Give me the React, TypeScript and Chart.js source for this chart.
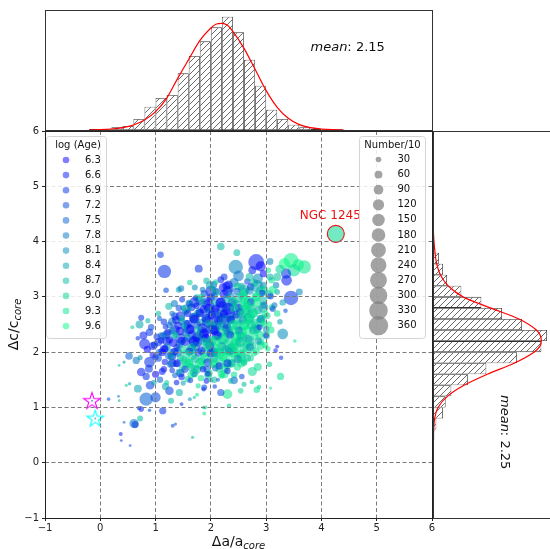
import React, { useEffect, useRef } from 'react';
import { Chart, registerables } from 'chart.js';
Chart.register(...registerables);

const FONT = '"DejaVu Sans", sans-serif';

// ---------- data ----------
const xTickLabels = ['−1', '0', '1', '2', '3', '4', '5', '6'];
const yTickLabels = ['−1', '0', '1', '2', '3', '4', '5', '6'];

const ageLegend = [6.3, 6.6, 6.9, 7.2, 7.5, 7.8, 8.1, 8.4, 8.7, 9.0, 9.3, 9.6];
const sizeLegend = [30, 60, 90, 120, 150, 180, 210, 240, 270, 300, 330, 360];

const topMean = 2.15;
const rightMean = 2.25;

// top histogram (Δa/a_core), bin centres and counts
const topBinCenters = [-0.1, 0.1, 0.3, 0.5, 0.7, 0.9, 1.1, 1.3, 1.5, 1.7, 1.9, 2.1, 2.3, 2.5, 2.7, 2.9, 3.1, 3.3, 3.5, 3.7, 3.9, 4.1, 4.3];
const topBinCounts = [3, 2, 8, 12, 33, 70, 96, 105, 170, 222, 266, 308, 340, 293, 211, 133, 61, 33, 16, 8, 4, 2, 2];
const topFitX = [-0.2, 0.0, 0.2, 0.4, 0.6, 0.8, 1.0, 1.2, 1.4, 1.6, 1.8, 2.0, 2.1, 2.2, 2.3, 2.4, 2.6, 2.8, 3.0, 3.2, 3.4, 3.6, 3.8, 4.0, 4.2, 4.4];
const topFitY = [0, 1, 3, 7, 15, 30, 55, 95, 155, 212, 268, 306, 318, 320, 314, 295, 245, 182, 118, 68, 35, 16, 7, 3, 1, 0];

// right histogram (Δc/c_core)
const rightBinCenters = [0.3, 0.5, 0.7, 0.9, 1.1, 1.3, 1.5, 1.7, 1.9, 2.1, 2.3, 2.5, 2.7, 2.9, 3.1, 3.3, 3.5, 3.7];
const rightBinCounts = [1, 4, 10, 30, 38, 55, 105, 160, 252, 325, 342, 267, 207, 145, 85, 42, 30, 18];
const rightFitY = [0.4, 0.6, 0.8, 1.0, 1.2, 1.4, 1.6, 1.8, 2.0, 2.1, 2.2, 2.3, 2.4, 2.6, 2.8, 3.0, 3.2, 3.4, 3.6, 3.8, 4.0, 4.2, 4.4];
const rightFitX = [0, 2, 5, 15, 43, 93, 163, 243, 303, 320, 325, 322, 310, 258, 172, 90, 45, 22, 11, 6, 3, 1, 0];

// clusters: [Δa/a, Δc/c, log(Age), Number/10]
const outerClusters: number[][] = [
  [1.09, 3.76, 7.0, 40], [1.16, 3.46, 6.9, 170], [1.78, 3.51, 6.9, 60], [1.19, 3.12, 7.2, 30], [1.42, 3.13, 8.4, 35],
  [1.46, 3.15, 7.8, 40], [1.62, 3.26, 9.0, 30], [1.71, 3.17, 8.1, 35], [1.24, 2.83, 8.7, 50], [1.34, 2.88, 7.8, 50],
  [1.48, 2.95, 6.9, 35], [1.61, 2.79, 8.4, 25], [0.71, 2.5, 8.4, 60], [0.74, 2.62, 6.9, 35], [0.58, 2.45, 9.0, 15],
  [0.86, 2.57, 8.7, 25], [1.07, 2.61, 7.5, 25], [0.89, 2.36, 6.9, 55], [0.8, 2.15, 6.6, 110],
  [2.18, 3.91, 8.7, 55], [2.47, 3.8, 8.7, 45], [2.45, 3.54, 8.0, 200], [2.82, 3.63, 6.6, 240], [2.9, 3.55, 6.3, 100],
  [2.75, 3.48, 6.6, 60], [3.07, 3.64, 8.0, 45], [3.45, 3.66, 9.4, 210], [3.69, 3.54, 9.3, 170], [3.33, 3.6, 9.6, 120],
  [3.58, 3.58, 9.5, 130], [3.5, 3.48, 9.2, 150], [3.36, 3.42, 6.9, 100], [3.37, 3.3, 6.6, 110], [3.2, 3.36, 8.8, 60],
  [3.6, 3.09, 8.0, 45], [3.45, 2.98, 6.9, 200], [3.3, 2.9, 8.4, 40], [3.04, 3.48, 9.4, 30], [3.07, 3.36, 8.6, 45],
  [3.12, 3.13, 9.4, 60], [2.24, 3.36, 6.9, 45], [2.32, 3.22, 6.6, 70], [2.09, 3.27, 9.0, 30], [2.04, 3.14, 8.7, 45],
  [2.5, 3.38, 7.8, 110], [2.7, 3.36, 8.7, 60], [2.85, 3.33, 8.1, 100], [2.95, 3.42, 6.3, 50], [3.25, 3.5, 9.0, 80],
  [3.3, 2.33, 8.1, 110], [3.52, 2.2, 9.3, 12], [3.09, 2.4, 9.3, 45], [3.0, 2.3, 7.0, 30], [2.88, 2.45, 6.8, 35],
  [3.03, 2.06, 9.4, 30], [3.17, 2.03, 6.8, 20], [3.2, 2.1, 6.6, 15], [3.27, 1.9, 7.0, 20], [3.06, 1.78, 9.0, 30],
  [3.26, 1.56, 9.2, 50], [3.08, 1.35, 9.3, 10], [3.2, 2.7, 9.3, 40], [3.25, 2.55, 8.4, 30], [3.15, 2.85, 7.8, 35],
  [3.35, 2.75, 7.2, 20],
  [2.85, 1.73, 9.2, 60], [2.75, 1.65, 9.1, 80], [2.87, 1.37, 9.1, 20], [2.83, 1.32, 9.2, 40], [2.74, 1.46, 8.8, 20],
  [2.56, 1.56, 7.2, 30], [2.6, 1.42, 8.7, 25], [2.54, 1.3, 9.1, 30], [2.42, 1.49, 7.5, 55], [2.36, 1.48, 8.7, 30],
  [2.3, 1.24, 9.3, 90], [2.18, 1.27, 7.2, 50], [2.13, 1.5, 7.5, 15], [2.07, 1.38, 7.0, 20], [2.33, 1.03, 9.0, 20],
  [1.87, 1.33, 7.0, 20], [1.87, 1.0, 8.7, 12], [1.88, 0.89, 9.3, 15], [1.67, 0.46, 8.7, 10], [2.3, 1.8, 6.9, 60],
  [0.83, 1.15, 7.5, 170], [1.0, 1.18, 7.2, 100], [0.61, 0.71, 7.8, 80], [0.63, 0.69, 7.0, 50], [0.37, 0.52, 6.6, 15],
  [0.38, 0.4, 7.2, 8], [0.43, 0.73, 7.5, 8], [0.54, 0.31, 7.2, 8], [0.72, 0.8, 8.7, 35], [0.89, 0.95, 7.2, 12],
  [0.74, 0.97, 6.6, 30], [0.7, 0.99, 7.2, 20], [1.13, 0.94, 6.9, 50], [1.31, 0.67, 7.2, 15], [1.36, 0.7, 7.5, 10],
  [0.15, 1.15, 7.2, 12], [0.33, 1.2, 7.8, 8], [0.34, 1.12, 8.7, 8], [0.47, 1.4, 9.0, 10], [0.53, 1.43, 8.4, 12],
  [0.34, 1.76, 8.7, 8], [0.43, 1.82, 8.1, 10], [0.52, 1.93, 7.5, 55], [0.65, 1.85, 7.8, 50], [0.68, 1.34, 8.4, 60],
  [0.74, 1.64, 6.6, 70], [0.83, 1.56, 6.9, 50], [0.89, 1.82, 6.9, 110], [0.9, 1.4, 7.0, 70], [1.28, 1.12, 8.7, 35],
  [1.43, 1.27, 8.6, 50], [1.47, 1.06, 6.9, 15], [1.25, 1.3, 7.0, 70], [1.18, 1.38, 8.4, 50], [1.88, 1.36, 7.0, 35],
  [1.9, 1.0, 9.0, 15], [1.75, 1.23, 9.3, 15], [1.7, 1.18, 8.7, 10], [1.62, 1.15, 8.1, 15],
  [0.78, 2.3, 6.6, 60], [0.92, 2.45, 7.2, 40], [0.85, 2.05, 6.3, 50], [0.95, 1.95, 6.6, 40], [0.88, 1.7, 6.9, 60],
  [1.0, 1.6, 6.3, 50], [1.08, 1.5, 7.5, 40], [0.97, 1.45, 8.4, 30], [1.12, 1.65, 6.6, 45], [0.72, 1.9, 8.1, 25],
  [1.05, 2.7, 8.7, 30], [1.15, 2.55, 6.9, 40], [1.3, 2.7, 7.8, 30], [0.68, 2.25, 6.9, 20], [1.2, 1.45, 9.0, 25],
  [1.38, 1.45, 6.6, 30],
  [-0.15, 1.12, 7.2, 4], [-0.09, 0.8, 7.8, 4],
];

// larger clusters filling the dense centre
const coreFill: number[][] = [
  [2.0, 3.1, 6.6, 120], [2.3, 3.1, 7.2, 100], [2.6, 3.12, 8.7, 120], [2.9, 3.1, 9.0, 100], [1.8, 2.93, 7.5, 80],
  [1.7, 2.9, 6.9, 100], [1.95, 2.85, 6.3, 130], [2.2, 2.82, 7.0, 120], [2.45, 2.85, 8.4, 110], [2.7, 2.9, 9.2, 130],
  [2.95, 2.8, 8.7, 90], [1.55, 2.78, 7.8, 80], [2.35, 2.7, 6.6, 100], [2.6, 2.75, 9.0, 120], [2.05, 2.72, 6.9, 110],
  [1.8, 2.72, 8.1, 90], [1.45, 2.65, 6.6, 90], [1.7, 2.62, 6.9, 110], [1.95, 2.55, 6.3, 140], [2.2, 2.6, 6.6, 120],
  [2.45, 2.6, 8.7, 130], [2.7, 2.65, 9.3, 110], [2.9, 2.55, 9.0, 90], [1.55, 2.5, 7.2, 80], [2.1, 2.48, 7.5, 100],
  [2.6, 2.5, 9.1, 120], [1.3, 2.55, 7.8, 70], [1.35, 2.4, 6.9, 90], [1.6, 2.42, 6.6, 110], [1.85, 2.35, 6.3, 130],
  [2.05, 2.42, 7.0, 120], [2.3, 2.4, 8.4, 110], [2.55, 2.35, 9.2, 130], [2.8, 2.42, 9.0, 100], [1.2, 2.32, 7.5, 70],
  [1.75, 2.28, 7.8, 90], [2.45, 2.28, 9.4, 110], [3.0, 2.3, 8.7, 60], [1.2, 2.2, 6.6, 80], [1.45, 2.25, 7.2, 100],
  [1.7, 2.2, 6.3, 120], [1.95, 2.18, 8.7, 110], [2.2, 2.25, 9.0, 130], [2.45, 2.15, 9.3, 120], [2.7, 2.2, 8.7, 100],
  [2.9, 2.12, 9.2, 70], [1.05, 2.18, 6.9, 60], [2.05, 2.08, 9.4, 100], [2.35, 2.05, 8.4, 110], [1.15, 2.05, 6.6, 70],
  [1.4, 2.0, 7.5, 80], [1.65, 2.05, 8.4, 100], [1.9, 2.0, 9.0, 110], [2.15, 1.98, 9.3, 120], [2.4, 2.0, 9.0, 110],
  [2.65, 2.02, 9.3, 90], [1.3, 1.92, 6.9, 60], [2.55, 1.9, 9.4, 80], [1.3, 1.8, 6.6, 70], [1.55, 1.82, 9.0, 90],
  [1.8, 1.8, 9.2, 100], [2.05, 1.82, 9.4, 90], [2.3, 1.78, 9.0, 100], [2.55, 1.8, 9.3, 70], [1.65, 1.72, 8.7, 70],
  [2.15, 1.7, 9.1, 60], [1.45, 1.62, 7.2, 60], [1.7, 1.62, 9.0, 70], [1.95, 1.58, 8.7, 60], [2.25, 1.6, 9.3, 60],
];

const coreClusters: number[][] = [
  [1.92, 3.29, 8.7, 40], [2.05, 3.22, 7.5, 50], [2.18, 3.31, 6.6, 45], [2.28, 3.2, 6.3, 60], [2.42, 3.26, 7.8, 80], [2.55, 3.19, 8.4, 50], [2.66, 3.28, 7.2, 40], [2.78, 3.25, 9.0, 60], [2.95, 3.21, 8.1, 50], [3.1, 3.3, 9.3, 40],
  [1.85, 3.13, 7.8, 30], [1.98, 3.21, 8.4, 60], [2.1, 3.1, 6.9, 40], [2.22, 3.17, 6.4, 70], [2.35, 3.14, 7.0, 50], [2.48, 3.19, 8.9, 60], [2.6, 3.09, 8.7, 70], [2.72, 3.18, 6.6, 50], [2.84, 3.19, 8.4, 150], [2.97, 3.12, 9.2, 60], [3.18, 3.21, 7.8, 40],
  [1.75, 3.0, 9.0, 30], [1.88, 3.06, 7.2, 50], [2.0, 2.99, 6.6, 60], [2.12, 3.08, 8.7, 40], [2.24, 3.05, 6.3, 80], [2.36, 3.01, 8.1, 60], [2.47, 3.1, 7.5, 50], [2.58, 3.03, 9.3, 90], [2.7, 3.11, 8.1, 60], [2.82, 3.0, 9.0, 80], [2.93, 3.07, 6.9, 40], [3.05, 3.04, 8.7, 70], [3.2, 3.09, 8.4, 30],
  [1.6, 2.89, 8.1, 40], [1.72, 2.98, 6.9, 30], [1.83, 2.99, 9.0, 50], [1.95, 2.92, 6.6, 70], [2.06, 3.01, 7.8, 50], [2.17, 2.9, 6.3, 90], [2.28, 2.96, 8.4, 60], [2.39, 2.89, 6.8, 70], [2.5, 2.98, 8.7, 80], [2.61, 2.95, 9.2, 100], [2.72, 2.91, 7.2, 50], [2.83, 3.0, 9.4, 70], [2.95, 2.93, 8.7, 60], [3.08, 3.01, 7.0, 40],
  [1.5, 2.8, 8.7, 30], [1.62, 2.87, 7.5, 50], [1.74, 2.84, 6.6, 40], [1.85, 2.89, 8.1, 60], [1.96, 2.79, 6.3, 80], [2.07, 2.88, 8.4, 60], [2.18, 2.89, 6.6, 100], [2.29, 2.82, 7.4, 70], [2.4, 2.91, 9.0, 90], [2.51, 2.8, 6.9, 60], [2.62, 2.86, 9.3, 110], [2.73, 2.79, 8.9, 80], [2.84, 2.88, 9.3, 60], [2.96, 2.85, 7.8, 50], [3.1, 2.81, 9.0, 40],
  [1.42, 2.8, 7.2, 40], [1.54, 2.73, 8.4, 40], [1.65, 2.81, 6.9, 60], [1.76, 2.7, 8.7, 50], [1.87, 2.77, 6.4, 70], [1.98, 2.74, 7.8, 90], [2.09, 2.79, 6.3, 60], [2.2, 2.69, 8.1, 80], [2.31, 2.78, 6.6, 150], [2.42, 2.79, 9.0, 70], [2.53, 2.72, 7.5, 60], [2.64, 2.81, 9.2, 90], [2.75, 2.7, 8.7, 100], [2.86, 2.76, 8.4, 60], [2.98, 2.69, 9.4, 50], [3.12, 2.78, 7.2, 35],
  [1.35, 2.65, 6.9, 50], [1.47, 2.61, 8.7, 40], [1.58, 2.7, 6.6, 50], [1.69, 2.63, 7.8, 70], [1.8, 2.71, 6.3, 60], [1.91, 2.6, 8.7, 80], [2.02, 2.67, 6.6, 70], [2.13, 2.64, 7.2, 110], [2.24, 2.69, 6.3, 70], [2.35, 2.59, 8.4, 90], [2.46, 2.68, 6.8, 60], [2.57, 2.69, 9.1, 80], [2.68, 2.62, 8.7, 90], [2.79, 2.71, 9.4, 70], [2.9, 2.6, 7.5, 60], [3.02, 2.66, 9.0, 40],
  [1.25, 2.49, 7.5, 40], [1.37, 2.58, 6.6, 60], [1.48, 2.55, 8.4, 50], [1.59, 2.51, 6.9, 70], [1.7, 2.6, 6.3, 80], [1.81, 2.53, 8.1, 60], [1.92, 2.61, 6.4, 90], [2.03, 2.5, 8.7, 70], [2.14, 2.57, 6.6, 80], [2.25, 2.54, 7.8, 180], [2.36, 2.59, 6.3, 60], [2.47, 2.49, 9.0, 90], [2.58, 2.58, 8.1, 70], [2.69, 2.59, 9.3, 100], [2.8, 2.52, 9.0, 80], [2.92, 2.61, 8.7, 60], [3.05, 2.5, 9.4, 40],
  [1.18, 2.46, 6.9, 30], [1.3, 2.39, 8.1, 50], [1.41, 2.48, 6.6, 60], [1.52, 2.45, 8.7, 40], [1.63, 2.41, 6.3, 80], [1.74, 2.5, 7.2, 70], [1.85, 2.43, 6.6, 100], [1.96, 2.51, 8.4, 60], [2.07, 2.4, 6.3, 90], [2.18, 2.47, 8.7, 70], [2.29, 2.44, 6.9, 80], [2.4, 2.49, 9.2, 100], [2.51, 2.39, 7.5, 60], [2.62, 2.48, 9.4, 80], [2.73, 2.49, 9.0, 90], [2.84, 2.42, 8.4, 60], [2.96, 2.51, 9.3, 50],
  [1.1, 2.3, 7.8, 40], [1.22, 2.36, 6.6, 50], [1.33, 2.29, 8.7, 40], [1.44, 2.38, 6.3, 70], [1.55, 2.35, 7.5, 60], [1.66, 2.31, 6.6, 80], [1.77, 2.4, 8.7, 70], [1.88, 2.33, 6.3, 100], [1.99, 2.41, 7.2, 80], [2.1, 2.3, 6.4, 90], [2.21, 2.37, 9.0, 70], [2.32, 2.34, 8.1, 80], [2.43, 2.39, 9.2, 90], [2.54, 2.29, 8.7, 70], [2.65, 2.38, 9.4, 100], [2.76, 2.39, 8.7, 60], [2.88, 2.32, 9.2, 70], [3.0, 2.41, 8.1, 40],
  [1.02, 2.28, 6.9, 40], [1.14, 2.29, 7.5, 60], [1.25, 2.22, 6.6, 50], [1.36, 2.31, 8.7, 40], [1.47, 2.2, 6.3, 70], [1.58, 2.26, 8.4, 60], [1.69, 2.19, 6.6, 90], [1.8, 2.28, 7.8, 70], [1.91, 2.25, 6.3, 80], [2.02, 2.21, 9.0, 90], [2.13, 2.3, 6.6, 70], [2.24, 2.23, 9.2, 100], [2.35, 2.31, 7.2, 60], [2.46, 2.2, 9.4, 90], [2.57, 2.27, 9.1, 100], [2.68, 2.24, 8.4, 70], [2.79, 2.29, 9.3, 60], [2.9, 2.19, 9.0, 50],
  [0.98, 2.13, 7.2, 50], [1.1, 2.21, 6.6, 40], [1.21, 2.1, 8.1, 50], [1.32, 2.17, 6.4, 70], [1.43, 2.14, 7.5, 60], [1.54, 2.19, 6.6, 80], [1.65, 2.09, 8.7, 70], [1.76, 2.18, 6.3, 90], [1.87, 2.19, 8.7, 70], [1.98, 2.12, 6.9, 80], [2.09, 2.21, 9.2, 100], [2.2, 2.1, 7.8, 70], [2.31, 2.16, 9.0, 90], [2.42, 2.09, 9.3, 80], [2.53, 2.18, 8.7, 100], [2.64, 2.15, 9.2, 70], [2.75, 2.11, 9.0, 60], [2.86, 2.2, 8.4, 50], [2.98, 2.13, 9.4, 40],
  [0.95, 2.11, 6.6, 60], [1.06, 2.0, 7.8, 40], [1.17, 2.06, 6.3, 50], [1.28, 1.99, 8.4, 60], [1.39, 2.08, 6.9, 50], [1.5, 2.05, 9.0, 70], [1.61, 2.01, 6.6, 60], [1.72, 2.1, 8.1, 80], [1.83, 2.03, 6.4, 70], [1.94, 2.11, 9.2, 90], [2.05, 2.0, 7.2, 80], [2.16, 2.07, 9.4, 100], [2.27, 2.04, 8.7, 80], [2.38, 2.09, 9.1, 90], [2.49, 1.99, 9.3, 70], [2.6, 2.08, 9.0, 80], [2.71, 2.09, 8.1, 60], [2.82, 2.02, 9.2, 50],
  [1.0, 1.91, 6.9, 40], [1.12, 2.0, 6.3, 60], [1.23, 1.93, 7.5, 40], [1.34, 2.01, 6.6, 60], [1.45, 1.9, 8.7, 50], [1.56, 1.97, 9.2, 70], [1.67, 1.94, 9.0, 80], [1.78, 1.99, 7.2, 60], [1.89, 1.89, 9.3, 90], [2.0, 1.98, 6.6, 70], [2.11, 1.99, 9.0, 80], [2.22, 1.92, 9.3, 90], [2.33, 2.01, 8.4, 70], [2.44, 1.9, 9.4, 80], [2.55, 1.96, 9.1, 70], [2.66, 1.89, 8.7, 50], [2.78, 1.98, 9.3, 40],
  [1.05, 1.89, 7.2, 50], [1.17, 1.82, 6.6, 40], [1.28, 1.91, 8.1, 50], [1.39, 1.8, 6.4, 60], [1.5, 1.86, 9.0, 60], [1.61, 1.79, 9.3, 80], [1.72, 1.88, 8.7, 70], [1.83, 1.85, 9.2, 60], [1.94, 1.81, 6.9, 70], [2.05, 1.9, 8.7, 80], [2.16, 1.83, 9.2, 70], [2.27, 1.91, 9.4, 90], [2.38, 1.8, 9.0, 60], [2.49, 1.87, 8.1, 70], [2.6, 1.84, 9.3, 50], [2.72, 1.89, 9.1, 40],
  [1.15, 1.69, 6.6, 40], [1.27, 1.78, 7.8, 50], [1.38, 1.79, 6.9, 40], [1.49, 1.72, 9.0, 50], [1.6, 1.81, 9.2, 70], [1.71, 1.7, 9.0, 60], [1.82, 1.76, 9.4, 70], [1.93, 1.69, 7.5, 50], [2.04, 1.78, 9.3, 60], [2.15, 1.75, 6.6, 50], [2.26, 1.71, 9.1, 70], [2.37, 1.8, 8.7, 60], [2.48, 1.73, 9.3, 50], [2.6, 1.81, 9.0, 40],
  [1.3, 1.67, 6.9, 30], [1.42, 1.64, 8.4, 40], [1.53, 1.69, 7.2, 50], [1.64, 1.59, 9.3, 50], [1.75, 1.68, 8.7, 60], [1.86, 1.69, 6.6, 40], [1.97, 1.62, 9.0, 50], [2.08, 1.71, 7.8, 40], [2.19, 1.6, 9.2, 50], [2.3, 1.66, 6.9, 40], [2.42, 1.59, 9.2, 40],
  [1.35, 1.58, 7.5, 30], [1.47, 1.55, 6.6, 40], [1.58, 1.51, 9.0, 40], [1.7, 1.6, 8.1, 30], [1.82, 1.53, 9.3, 40], [1.94, 1.61, 6.9, 30], [2.06, 1.5, 8.7, 40], [2.2, 1.57, 9.4, 30],
  [1.5, 1.44, 8.4, 25], [1.63, 1.49, 7.0, 30], [1.77, 1.39, 9.2, 25], [1.92, 1.48, 6.6, 30], [2.0, 1.49, 8.9, 20],
];

const ngc1245 = [4.26, 4.14, 9.1, 245];
const ngcLabel = 'NGC 1245';
const starPoints = [[-0.15, 1.12], [-0.09, 0.8]];
const starColors = ['#ff00ff', '#00ffff'];

// ---------- styling helpers ----------
const AGE_MIN = 6.3;
const AGE_MAX = 9.6;
const ALPHA = 0.55;
function ageColor(age: number, alpha = ALPHA) {
  const t = Math.min(1, Math.max(0, (age - AGE_MIN) / (AGE_MAX - AGE_MIN)));
  return `rgba(0,${Math.round(255 * t)},${Math.round(255 * (1 - 0.5 * t))},${alpha})`;
}
function sizeRadius(n: number) {
  return Math.max(1, 2.8 * Math.sqrt(n / 30));
}
function makeStar(color: string) {
  const c = document.createElement('canvas');
  c.width = 22; c.height = 22;
  const g = c.getContext('2d')!;
  const R = 8.8, r = R * 0.382;
  g.beginPath();
  for (let i = 0; i < 10; i++) {
    const a = -Math.PI / 2 + (i * Math.PI) / 5;
    const rad = i % 2 === 0 ? R : r;
    const px = 11 + rad * Math.cos(a), py = 11.5 + rad * Math.sin(a);
    if (i === 0) g.moveTo(px, py); else g.lineTo(px, py);
  }
  g.closePath();
  g.strokeStyle = color; g.lineWidth = 1.1; g.stroke();
  return c;
}
function makeHatch(ctx: CanvasRenderingContext2D) {
  const c = document.createElement('canvas');
  c.width = 6; c.height = 6;
  const g = c.getContext('2d')!;
  g.fillStyle = '#fff'; g.fillRect(0, 0, 6, 6);
  g.strokeStyle = '#444'; g.lineWidth = 0.8;
  g.beginPath();
  g.moveTo(0, 6); g.lineTo(6, 0);
  g.moveTo(-1, 1); g.lineTo(1, -1);
  g.moveTo(5, 7); g.lineTo(7, 5);
  g.stroke();
  return ctx.createPattern(c, 'repeat')!;
}
function drawSubText(ctx: CanvasRenderingContext2D, main: string, sub: string, cx: number, base: number) {
  ctx.font = `14px ${FONT}`;
  const w1 = ctx.measureText(main).width;
  ctx.font = `italic 10px ${FONT}`;
  const w2 = ctx.measureText(sub).width;
  const start = cx - (w1 + w2) / 2;
  ctx.textAlign = 'left'; ctx.textBaseline = 'alphabetic'; ctx.fillStyle = '#111';
  ctx.font = `14px ${FONT}`; ctx.fillText(main, start, base);
  ctx.font = `italic 10px ${FONT}`; ctx.fillText(sub, start + w1, base + 3);
}
function drawMean(ctx: CanvasRenderingContext2D, value: number, x: number, y: number) {
  ctx.textAlign = 'left'; ctx.textBaseline = 'alphabetic'; ctx.fillStyle = '#111';
  ctx.font = `italic 13px ${FONT}`;
  ctx.fillText('mean', x, y);
  const w = ctx.measureText('mean').width;
  ctx.font = `13px ${FONT}`;
  ctx.fillText(': ' + value.toFixed(2), x + w, y);
}
function roundRect(ctx: CanvasRenderingContext2D, x: number, y: number, w: number, h: number, r: number) {
  ctx.beginPath();
  ctx.moveTo(x + r, y); ctx.lineTo(x + w - r, y); ctx.quadraticCurveTo(x + w, y, x + w, y + r);
  ctx.lineTo(x + w, y + h - r); ctx.quadraticCurveTo(x + w, y + h, x + w - r, y + h);
  ctx.lineTo(x + r, y + h); ctx.quadraticCurveTo(x, y + h, x, y + h - r);
  ctx.lineTo(x, y + r); ctx.quadraticCurveTo(x, y, x + r, y);
  ctx.closePath();
}
function frame(ctx: CanvasRenderingContext2D, ca: any, color = '#222') {
  ctx.save();
  ctx.strokeStyle = color; ctx.lineWidth = 1;
  ctx.strokeRect(ca.left + 0.5, ca.top + 0.5, ca.right - ca.left, ca.bottom - ca.top);
  ctx.restore();
}

const TICK_FONT = { family: FONT, size: 10 };
const GRID = '#7a7a7a';

export default function App() {
  const topRef = useRef<HTMLCanvasElement>(null);
  const mainRef = useRef<HTMLCanvasElement>(null);
  const rightRef = useRef<HTMLCanvasElement>(null);

  useEffect(() => {
    const charts: Chart[] = [];

    // ---------- main scatter ----------
    const allClusters = [...coreFill, ...coreClusters, ...outerClusters];
    const mainDecor = {
      id: 'mainDecor',
      afterDraw(chart: any) {
        const ctx: CanvasRenderingContext2D = chart.ctx;
        const ca = chart.chartArea;
        frame(ctx, ca);
        ctx.save();
        drawSubText(ctx, 'Δa/a', 'core', (ca.left + ca.right) / 2, ca.bottom + 28);
        ctx.save();
        ctx.translate(18, (ca.top + ca.bottom) / 2);
        ctx.rotate(-Math.PI / 2);
        drawSubText(ctx, 'Δc/c', 'core', 0, 0);
        ctx.restore();

        const nx = chart.scales.x.getPixelForValue(ngc1245[0]);
        const ny = chart.scales.y.getPixelForValue(ngc1245[1]);
        ctx.fillStyle = '#ee1111';
        ctx.font = `12px ${FONT}`;
        ctx.textAlign = 'left'; ctx.textBaseline = 'alphabetic';
        ctx.fillText(ngcLabel, nx - 36, ny - 15);

        const lt = ca.top + 5;
        const rowH = 15.1;
        const lbH = 202;
        ctx.fillStyle = 'rgba(255,255,255,0.85)';
        ctx.strokeStyle = '#d5d5d5'; ctx.lineWidth = 1;
        roundRect(ctx, ca.left + 1.5, lt + 0.5, 60, lbH, 3);
        ctx.fill(); ctx.stroke();
        ctx.fillStyle = '#111'; ctx.font = `10px ${FONT}`;
        ctx.textAlign = 'center'; ctx.textBaseline = 'middle';
        ctx.fillText('log (Age)', ca.left + 33, lt + 9.5);
        ageLegend.forEach((a, i) => {
          const yy = lt + 24 + i * rowH;
          ctx.beginPath();
          ctx.arc(ca.left + 21, yy, 3.3, 0, Math.PI * 2);
          ctx.fillStyle = ageColor(a, 0.5); ctx.fill();
          ctx.fillStyle = '#111'; ctx.textAlign = 'left';
          ctx.fillText(a.toFixed(1), ca.left + 40, yy);
        });

        const bx = ca.right - 72.5;
        ctx.fillStyle = 'rgba(255,255,255,0.85)';
        ctx.strokeStyle = '#d5d5d5';
        roundRect(ctx, bx, lt + 0.5, 66, lbH, 3);
        ctx.fill(); ctx.stroke();
        ctx.fillStyle = '#111'; ctx.textAlign = 'center';
        ctx.fillText('Number/10', bx + 33, lt + 9.5);
        sizeLegend.forEach((n, i) => {
          const yy = lt + 23.5 + i * rowH;
          ctx.beginPath();
          ctx.arc(bx + 19, yy, sizeRadius(n), 0, Math.PI * 2);
          ctx.fillStyle = 'rgba(128,128,128,0.72)'; ctx.fill();
        });
        sizeLegend.forEach((n, i) => {
          const yy = lt + 23.5 + i * rowH;
          ctx.fillStyle = '#111'; ctx.textAlign = 'left';
          ctx.fillText(String(n), bx + 38, yy);
        });
        ctx.restore();
      },
    };

    const starImgs = starColors.map((c) => makeStar(c));
    const mainChart = new Chart(mainRef.current!, {
      type: 'scatter',
      data: {
        datasets: [
          {
            data: allClusters.map((p) => ({ x: p[0], y: p[1], age: p[2], n: p[3] })) as any,
            pointRadius: (c: any) => sizeRadius(c.raw.n),
            pointBackgroundColor: (c: any) => ageColor(c.raw.age),
            pointBorderWidth: 0,
            pointBorderColor: 'rgba(0,0,0,0)',
          },
          {
            data: starPoints.map((p) => ({ x: p[0], y: p[1] })),
            pointStyle: starImgs as any,
            pointRadius: 9,
          },
          {
            data: [{ x: ngc1245[0], y: ngc1245[1] }],
            pointRadius: 8.5,
            pointBackgroundColor: ageColor(ngc1245[2], 0.55),
            pointBorderColor: '#ee1111',
            pointBorderWidth: 1.1,
          },
        ],
      },
      options: {
        animation: false,
        responsive: false,
        events: [],
        layout: { padding: { top: 11, right: 28, left: 0, bottom: 0 } },
        plugins: { legend: { display: false }, tooltip: { enabled: false } },
        scales: {
          x: {
            type: 'linear', min: -1, max: 6,
            ticks: { stepSize: 1, autoSkip: false, font: TICK_FONT, color: '#222', padding: 1, maxRotation: 0,
              callback: (_v: any, i: number) => xTickLabels[i] },
            grid: { color: GRID, lineWidth: 1, z: 1, tickLength: 3, tickColor: '#222', tickWidth: 1 },
            border: { display: false, dash: [4, 2.5] },
            afterFit: (s: any) => { s.height = 31; },
          },
          y: {
            type: 'linear', min: -1, max: 6,
            ticks: { stepSize: 1, autoSkip: false, font: TICK_FONT, color: '#222', padding: 3,
              callback: (_v: any, i: number) => yTickLabels[i] },
            grid: { color: GRID, lineWidth: 1, z: 1, tickLength: 3, tickColor: '#222', tickWidth: 1 },
            border: { display: false, dash: [4, 2.5] },
            afterFit: (s: any) => { s.width = 45; },
          },
        },
      } as any,
      plugins: [mainDecor],
    });
    charts.push(mainChart);

    // ---------- top histogram ----------
    const topCtx = topRef.current!.getContext('2d')!;
    const topDecor = {
      id: 'topDecor',
      afterDraw(chart: any) {
        const ctx = chart.ctx;
        frame(ctx, chart.chartArea, '#333');
        drawMean(ctx, topMean, 310.5, 51);
      },
    };
    const topChart = new Chart(topRef.current!, {
      type: 'bar',
      data: {
        datasets: [
          {
            type: 'line',
            data: topFitX.map((x, i) => ({ x, y: topFitY[i] })),
            borderColor: '#ff0000', borderWidth: 1.2, pointRadius: 0,
            cubicInterpolationMode: 'monotone', order: 0,
          } as any,
          {
            type: 'bar',
            data: topBinCenters.map((x, i) => ({ x, y: topBinCounts[i] })),
            backgroundColor: makeHatch(topCtx),
            borderColor: '#333', borderWidth: 0.8, borderSkipped: false, inflateAmount: 0,
            barPercentage: 1, categoryPercentage: 1, order: 1,
          } as any,
        ],
      },
      options: {
        animation: false, responsive: false, events: [],
        layout: { padding: { left: 45, right: 28, top: 10, bottom: 5 } },
        plugins: { legend: { display: false }, tooltip: { enabled: false } },
        scales: {
          x: { type: 'linear', min: -1, max: 6, offset: false, display: false },
          y: { type: 'linear', min: 0, max: 360, display: false },
        },
      } as any,
      plugins: [topDecor],
    });
    charts.push(topChart);

    // ---------- right histogram ----------
    const rightCtx = rightRef.current!.getContext('2d')!;
    const rightDecor = {
      id: 'rightDecor',
      afterDraw(chart: any) {
        const ctx: CanvasRenderingContext2D = chart.ctx;
        frame(ctx, chart.chartArea, '#333');
        ctx.save();
        ctx.translate(73, 275);
        ctx.rotate(Math.PI / 2);
        drawMean(ctx, rightMean, 0, 0);
        ctx.restore();
      },
    };
    const rightChart = new Chart(rightRef.current!, {
      type: 'bar',
      data: {
        datasets: [
          {
            type: 'line',
            indexAxis: 'y',
            data: rightFitY.map((y, i) => ({ x: rightFitX[i], y })),
            borderColor: '#ff0000', borderWidth: 1.2, pointRadius: 0,
            cubicInterpolationMode: 'monotone', order: 0,
          } as any,
          {
            type: 'bar',
            data: rightBinCenters.map((y, i) => ({ x: rightBinCounts[i], y })),
            backgroundColor: makeHatch(rightCtx),
            borderColor: '#333', borderWidth: 0.8, borderSkipped: false, inflateAmount: 0,
            barPercentage: 1, categoryPercentage: 1, order: 1,
          } as any,
        ],
      },
      options: {
        indexAxis: 'y',
        animation: false, responsive: false, events: [],
        layout: { padding: { left: 5, right: 0, top: 11, bottom: 31 } },
        plugins: { legend: { display: false }, tooltip: { enabled: false } },
        scales: {
          x: { type: 'linear', min: 0, max: 360, display: false },
          y: { type: 'linear', min: -1, max: 6, offset: false, display: false },
        },
      } as any,
      plugins: [rightDecor],
    });
    charts.push(rightChart);

    return () => charts.forEach((c) => c.destroy());
  }, []);

  return (
    <div style={{ position: 'absolute', left: 0, top: 0, width: 550, height: 549, overflow: 'hidden', background: '#fff' }}>
      <canvas ref={topRef} width={460} height={135} style={{ position: 'absolute', left: 0, top: 0, width: 460, height: 135 }} />
      <canvas ref={mainRef} width={460} height={429} style={{ position: 'absolute', left: 0, top: 120, width: 460, height: 429 }} />
      <canvas ref={rightRef} width={125} height={429} style={{ position: 'absolute', left: 428, top: 120, width: 125, height: 429 }} />
    </div>
  );
}
